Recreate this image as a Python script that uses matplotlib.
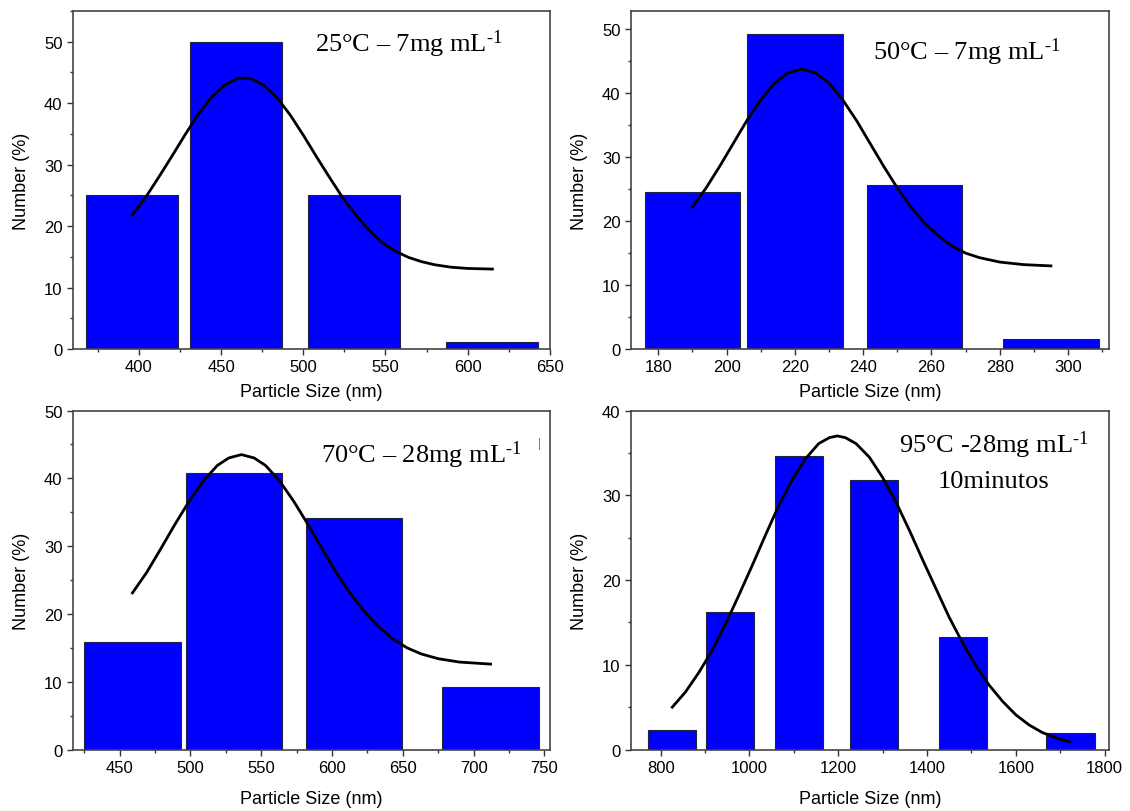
import matplotlib
matplotlib.use('Agg')
import matplotlib.pyplot as plt
from matplotlib.ticker import MultipleLocator

plt.rcParams['font.family'] = ['Liberation Sans', 'DejaVu Sans']
plt.rcParams['mathtext.fontset'] = 'custom'
plt.rcParams['mathtext.rm'] = 'Liberation Serif'
plt.rcParams['mathtext.it'] = 'Liberation Serif:italic'

# 25 C - 7 mg/mL
p1_sizes = [396, 459, 531, 615]
p1_number = [25, 50, 25, 1.1]
p1_fit_x = [396, 404, 412, 420, 428, 436, 444, 452, 460, 464, 468, 476, 484, 492, 500, 508, 516, 524,
            532, 540, 548, 556, 564, 572, 580, 590, 600, 615]
p1_fit_y = [21.8, 24.6, 27.9, 31.3, 34.8, 38.1, 40.9, 42.9, 44.0, 44.1, 44.0, 42.9, 40.9, 38.1, 34.8, 31.3, 27.9, 24.6,
            21.8, 19.3, 17.3, 15.9, 14.9, 14.2, 13.7, 13.3, 13.1, 13.0]

# 50 C - 7 mg/mL
p2_sizes = [190, 220, 255, 295]
p2_number = [24.5, 49.3, 25.6, 1.5]
p2_fit_x = [190, 194, 198, 202, 206, 210, 214, 218, 222, 226, 230, 234, 238, 242, 246, 250, 254,
            258, 262, 266, 270, 274, 280, 287, 295]
p2_fit_y = [22.2, 25.2, 28.6, 32.2, 35.8, 39.0, 41.6, 43.2, 43.8, 43.2, 41.6, 39.0, 35.8, 32.2, 28.6, 25.2, 22.2,
            19.7, 17.7, 16.1, 15.0, 14.3, 13.6, 13.2, 13.0]

# 70 C - 28 mg/mL
p3_sizes = [459, 531, 615.5, 712]
p3_number = [15.9, 40.8, 34.1, 9.2]
p3_fit_x = [459, 469, 479, 489, 499, 509, 519, 527, 536, 545, 553, 563, 573, 583, 593, 603, 613,
            623, 633, 643, 653, 663, 675, 690, 712]
p3_fit_y = [23.1, 26.1, 29.6, 33.2, 36.6, 39.6, 41.9, 43.0, 43.5, 43.0, 41.9, 39.6, 36.6, 33.2, 29.6, 26.1, 23.0,
            20.3, 18.1, 16.3, 15.0, 14.1, 13.4, 12.9, 12.6]

# 95 C - 28 mg/mL, 10 minutos
p4_sizes = [826, 956, 1111.5, 1281, 1481, 1723]
p4_number = [2.35, 16.2, 34.6, 31.8, 13.3, 2.0]
p4_fit_x = [826, 856, 886, 916, 946, 976, 1006, 1036, 1066, 1096, 1126, 1156, 1180, 1198, 1216, 1240,
            1270, 1300, 1330, 1360, 1390, 1420, 1450, 1480, 1510, 1540, 1570, 1600, 1630, 1660, 1690, 1721]
p4_fit_y = [5.0, 6.8, 9.1, 11.7, 14.8, 18.2, 21.7, 25.3, 28.8, 31.8, 34.3, 36.1, 36.8, 37.0, 36.8, 36.1,
            34.5, 32.1, 29.2, 25.9, 22.4, 19.0, 15.6, 12.6, 9.9, 7.6, 5.7, 4.1, 2.9, 2.0, 1.4, 0.9]

fig = plt.figure(figsize=(11.3, 8.12), dpi=100)

panels = [
    dict(rect=[0.0646, 0.5690, 0.4221, 0.4163], sizes=p1_sizes, number=p1_number, width=56,
         fit_x=p1_fit_x, fit_y=p1_fit_y, xlim=(360, 650), ylim=(0, 55), xmaj=50, ymaj=10, labelpad=6),
    dict(rect=[0.5584, 0.5690, 0.4230, 0.4163], sizes=p2_sizes, number=p2_number, width=28,
         fit_x=p2_fit_x, fit_y=p2_fit_y, xlim=(172, 312), ylim=(0, 52.9), xmaj=20, ymaj=10, labelpad=6),
    dict(rect=[0.0646, 0.0757, 0.4221, 0.4175], sizes=p3_sizes, number=p3_number, width=68,
         fit_x=p3_fit_x, fit_y=p3_fit_y, xlim=(417, 754), ylim=(0, 50), xmaj=50, ymaj=10, labelpad=11),
    dict(rect=[0.5584, 0.0757, 0.4230, 0.4175], sizes=p4_sizes, number=p4_number, width=109,
         fit_x=p4_fit_x, fit_y=p4_fit_y, xlim=(733, 1810), ylim=(0, 40), xmaj=200, ymaj=10, labelpad=11),
]

axes = []
for p in panels:
    ax = fig.add_axes(p['rect'])
    ax.bar(p['sizes'], p['number'], width=p['width'], color='#0000FF', edgecolor='#222244', linewidth=0.8, zorder=2)
    ax.plot(p['fit_x'], p['fit_y'], color='black', linewidth=2.0, zorder=3)
    ax.set_xlim(p['xlim'])
    ax.set_ylim(p['ylim'])
    ax.xaxis.set_major_locator(MultipleLocator(p['xmaj']))
    ax.xaxis.set_minor_locator(MultipleLocator(p['xmaj'] / 2))
    ax.yaxis.set_major_locator(MultipleLocator(p['ymaj']))
    ax.yaxis.set_minor_locator(MultipleLocator(p['ymaj'] / 2))
    ax.tick_params(which='major', direction='out', length=4.5, width=1, color='#333333', labelsize=12, pad=3)
    ax.tick_params(which='minor', direction='out', length=2.2, width=1, color='#333333')
    for s in ax.spines.values():
        s.set_color('#444444')
        s.set_linewidth(1.2)
    ax.set_xlabel('Particle Size (nm)', fontsize=13, labelpad=p['labelpad'])
    ax.set_ylabel('Number (%)', fontsize=13, labelpad=10)
    axes.append(ax)

serif = dict(family='Liberation Serif', fontsize=19, va='baseline')
axes[0].text(0.508, 0.883, r'25°C – 7mg mL$^{\text{-1}}$', transform=axes[0].transAxes, ha='left', **serif)
axes[1].text(0.506, 0.858, r'50°C – 7mg mL$^{\text{-1}}$', transform=axes[1].transAxes, ha='left', **serif)
axes[2].text(0.519, 0.849, r'70°C – 28mg mL$^{\text{-1}}$', transform=axes[2].transAxes, ha='left', **serif)
axes[2].text(0.978, 0.904, '|', transform=axes[2].transAxes, ha='center', va='center',
             family='Liberation Serif', fontsize=9, color='#333333')
axes[3].text(0.759, 0.878, r'95°C -28mg mL$^{\text{-1}}$', transform=axes[3].transAxes, ha='center', **serif)
axes[3].text(0.759, 0.775, '10minutos', transform=axes[3].transAxes, ha='center', **serif)

fig.savefig('out.png', dpi=100)
